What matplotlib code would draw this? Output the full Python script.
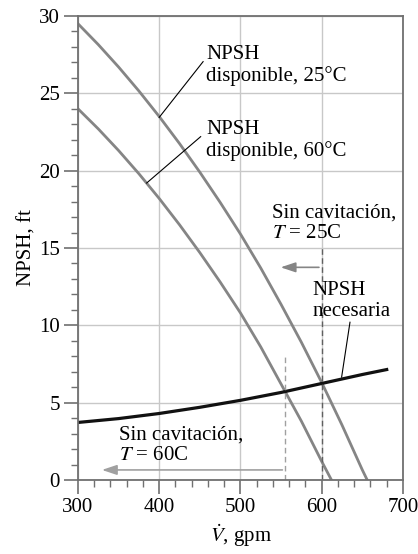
import numpy as np
import matplotlib
matplotlib.use('Agg')
import matplotlib.pyplot as plt

plt.rcParams['font.family'] = ['Liberation Serif', 'DejaVu Serif']
plt.rcParams['mathtext.fontset'] = 'stix'
plt.rcParams['font.size'] = 15

# NPSH disponible, 25 C
q_25 = [300, 325, 350, 375, 400, 425, 450, 475, 500, 525, 550, 575, 600, 625, 650, 656]
npsh_25 = [29.5, 28.15, 26.7, 25.15, 23.5, 21.75, 19.9, 17.95, 15.9, 13.7, 11.35, 8.9, 6.3, 3.55, 0.65, 0.0]

# NPSH disponible, 60 C
q_60 = [300, 325, 350, 375, 400, 425, 450, 475, 500, 525, 550, 575, 600, 612]
npsh_60 = [24.0, 22.7, 21.3, 19.8, 18.2, 16.5, 14.7, 12.8, 10.8, 8.6, 6.2, 3.8, 1.2, 0.0]

# NPSH necesaria
q_req = [300, 350, 400, 450, 500, 550, 600, 650, 680]
npsh_req = [3.72, 3.97, 4.3, 4.7, 5.15, 5.66, 6.24, 6.82, 7.14]

# cavitation limits
q_lim_25 = 600
q_lim_60 = 555

fig = plt.figure(figsize=(4.18, 5.54), dpi=100)
ax = fig.add_axes([0.1866, 0.1336, 0.7774, 0.8375])

ax.set_xlim(300, 700)
ax.set_ylim(0, 30)
ax.set_xticks([300, 400, 500, 600, 700])
ax.set_yticks([0, 5, 10, 15, 20, 25, 30])
ax.set_xticks(np.arange(300, 701, 20), minor=True)
ax.set_yticks(np.arange(0, 31, 1), minor=True)
ax.grid(True, which='major', color='#c8c8c8', lw=1.0)
ax.set_axisbelow(True)
for s in ax.spines.values():
    s.set_color('#707070')
    s.set_linewidth(1.3)
ax.tick_params(which='major', direction='out', length=10, width=1.2, color='#707070', pad=3)
ax.tick_params(which='minor', direction='out', length=5, width=1.0, color='#707070')

grey = '#858585'
ax.plot(q_25, npsh_25, color=grey, lw=2.0)
ax.plot(q_60, npsh_60, color=grey, lw=2.0)
ax.plot(q_req, npsh_req, color='#111111', lw=2.3)

ax.plot([q_lim_25, q_lim_25], [0, 15.0], color='#606060', lw=1.0, dashes=(4, 2.5))
ax.plot([q_lim_60, q_lim_60], [0, 8.0], color='#a0a0a0', lw=1.0, dashes=(4, 2.5))

ax.annotate('', xy=(546, 13.75), xytext=(q_lim_25, 13.75),
            arrowprops=dict(arrowstyle='-|>,head_length=0.6,head_width=0.2', color=grey, lw=1.2))
ax.annotate('', xy=(326, 0.65), xytext=(q_lim_60, 0.65),
            arrowprops=dict(arrowstyle='-|>,head_length=0.6,head_width=0.2', color='#a0a0a0', lw=1.2))

# leader lines
ax.plot([400, 454], [23.45, 27.05], color='black', lw=0.8)
ax.plot([384.5, 451], [19.2, 22.2], color='black', lw=0.8)
ax.plot([624.5, 634.8], [6.65, 10.2], color='black', lw=0.8)

ax.text(458, 26.8, 'NPSH\ndisponible, 25°C', ha='left', va='center', linespacing=1.15)
ax.text(458, 21.95, 'NPSH\ndisponible, 60°C', ha='left', va='center', linespacing=1.15)
ax.text(539, 15.3, 'Sin cavitación,\n$T$ = 25C', ha='left', va='bottom', linespacing=1.1)
ax.text(589, 10.3, 'NPSH\nnecesaria', ha='left', va='bottom', linespacing=1.1)
ax.text(350, 1.0, 'Sin cavitación,\n$T$ = 60C', ha='left', va='bottom', linespacing=1.1)

ax.set_xlabel(r'$\dot{V}$, gpm', labelpad=4)
ax.set_ylabel('NPSH, ft', labelpad=2)

plt.savefig('out.png', dpi=100)
plt.close()
